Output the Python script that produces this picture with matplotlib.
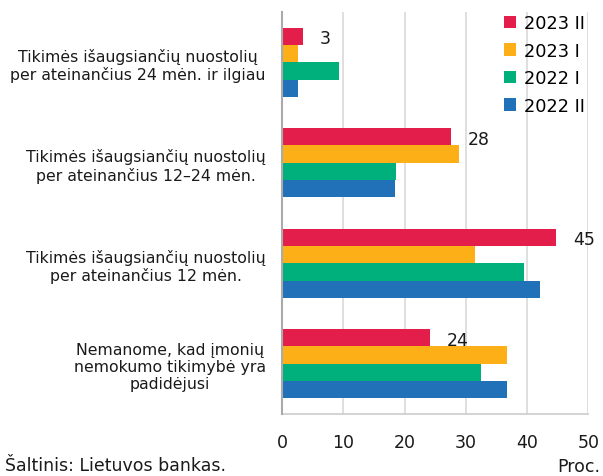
import matplotlib
matplotlib.use("Agg")
import matplotlib.pyplot as plt
from matplotlib.patches import Patch
import numpy as np

categories = [
    "Tikimės išaugsiančių nuostolių\nper ateinančius 24 mėn. ir ilgiau",
    "Tikimės išaugsiančių nuostolių\nper ateinančius 12–24 mėn.",
    "Tikimės išaugsiančių nuostolių\nper ateinančius 12 mėn.",
    "Nemanome, kad įmonių\nnemokumo tikimybė yra\npadidėjusi",
]
series_names = ["2023 II", "2023 I", "2022 I", "2022 II"]
s_2023_II = [3.4, 27.6, 44.8, 24.1]
s_2023_I = [2.6, 28.9, 31.5, 36.8]
s_2022_I = [9.3, 18.6, 39.5, 32.5]
s_2022_II = [2.6, 18.4, 42.1, 36.8]
labels_2023_II = ["3", "28", "45", "24"]
xticks = [0, 10, 20, 30, 40, 50]

colors = ["#e41e4a", "#fcaf17", "#00b07c", "#2171b9"]
series = [s_2023_II, s_2023_I, s_2022_I, s_2022_II]

fig = plt.figure(figsize=(6.03, 4.77), dpi=100)
ax = fig.add_axes([0.468, 0.130, 0.5076, 0.8427])

h = 0.172
y = np.arange(len(categories))
for i, (vals, c) in enumerate(zip(series, colors)):
    ax.barh(y + (i - 1.5) * h, vals, height=h, color=c, zorder=3)

for yi, v, lab in zip(y, s_2023_II, labels_2023_II):
    ax.annotate(lab, xy=(v, yi - 1.5 * h), xytext=(12, -1.5), textcoords="offset points",
                ha="left", va="center", fontsize=12.5, color="#1a1a1a")

ax.set_ylim(len(categories) - 0.5, -0.5)
ax.set_xlim(0, 50)
ax.set_xticks(xticks)
ax.set_xticklabels([str(t) for t in xticks], fontsize=12.5, color="#1a1a1a")
ax.set_yticks(y)
ax.set_yticklabels(categories, fontsize=11.3, color="#1a1a1a", multialignment="center",
                   linespacing=1.18)
ax.tick_params(axis="both", length=0)
ax.tick_params(axis="x", pad=14)
ax.tick_params(axis="y", pad=12)
ax.grid(axis="x", color="#d9d9d9", linewidth=1.2, zorder=0)
for s in ["top", "right"]:
    ax.spines[s].set_visible(False)
ax.spines["left"].set_color("#aaaaaa")
ax.spines["left"].set_linewidth(1.5)
ax.spines["left"].set_zorder(4)
ax.spines["bottom"].set_color("#cccccc")
ax.spines["bottom"].set_linewidth(1.2)

handles = [Patch(facecolor=c, edgecolor="none") for c in colors]
leg = ax.legend(handles, series_names, loc="upper left", bbox_to_anchor=(0.70, 1.012),
                frameon=False, fontsize=12.8, handlelength=0.7, handleheight=0.7,
                handletextpad=0.45, labelspacing=0.53, borderaxespad=0)

fig.text(0.008, 0.004, "Šaltinis: Lietuvos bankas.", fontsize=12.5, color="#1a1a1a",
         ha="left", va="bottom")
fig.text(0.995, 5 / 477, "Proc.", fontsize=12.5, color="#1a1a1a", ha="right", va="baseline")

fig.savefig("out.png", dpi=100)
